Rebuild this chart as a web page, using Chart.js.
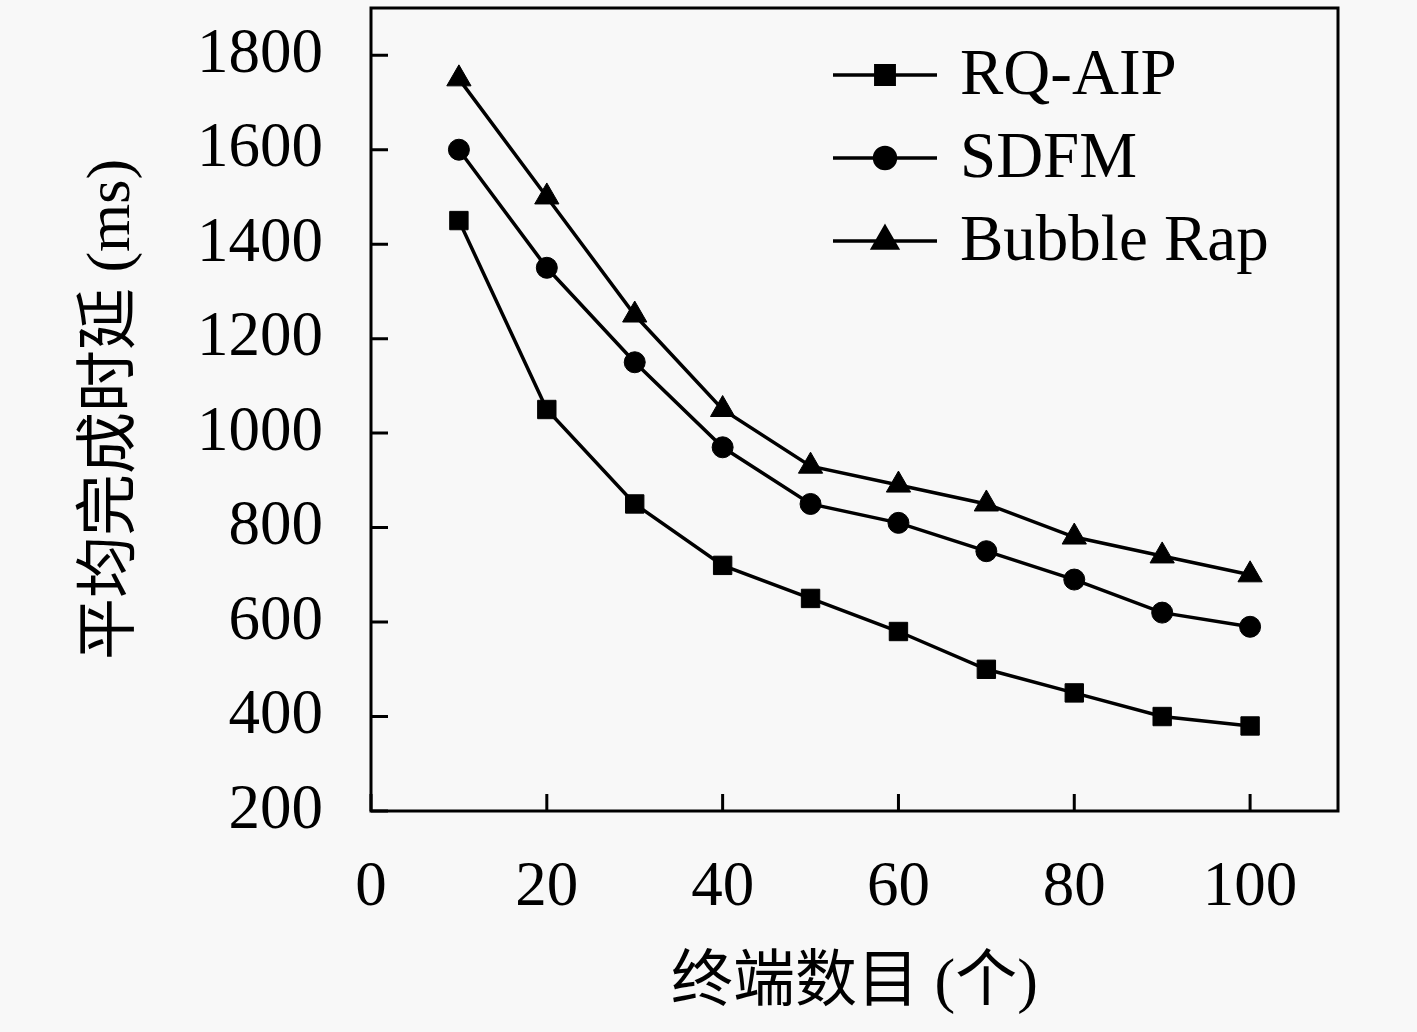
<!DOCTYPE html>
<html>
<head>
<meta charset="utf-8">
<script src="https://cdn.jsdelivr.net/npm/chart.js@4.4.0/dist/chart.umd.min.js"></script>
<style>
  html, body { margin: 0; padding: 0; background: #f8f8f8; }
  #wrap { width: 1417px; height: 1032px; }
</style>
</head>
<body>
<div id="wrap"><canvas id="chart"></canvas></div>
<script>
const terminals = [10, 20, 30, 40, 50, 60, 70, 80, 90, 100];
const rqAip = [1450, 1050, 850, 720, 650, 580, 500, 450, 400, 380];
const sdfm = [1600, 1350, 1150, 970, 850, 810, 750, 690, 620, 590];
const bubbleRap = [1750, 1500, 1250, 1050, 930, 890, 850, 780, 740, 700];
const xTicks = [0, 20, 40, 60, 80, 100];
const yTicks = [200, 400, 600, 800, 1000, 1200, 1400, 1600, 1800];

const serif = '"Liberation Serif", "DejaVu Serif", "Noto Sans CJK SC", serif';
const titleFont = '"Liberation Serif", "Noto Sans CJK SC", serif';

function pts(values) {
    return terminals.map((t, i) => ({ x: t, y: values[i] }));
}

// frame, inward ticks and legend
const frame = {
    id: 'frame',
    afterDatasetsDraw(chart) {
        const ctx = chart.ctx;
        const a = chart.chartArea;
        const xs = chart.scales.x, ys = chart.scales.y;
        ctx.save();
        ctx.strokeStyle = '#000';
        ctx.lineWidth = 3;
        ctx.strokeRect(a.left, a.top, a.right - a.left, a.bottom - a.top);
        ctx.beginPath();
        xTicks.forEach(v => {
            const px = xs.getPixelForValue(v);
            ctx.moveTo(px, a.bottom);
            ctx.lineTo(px, a.bottom - 17);
        });
        yTicks.forEach(v => {
            const py = ys.getPixelForValue(v);
            ctx.moveTo(a.left, py);
            ctx.lineTo(a.left + 17, py);
        });
        ctx.stroke();

        // legend
        const lx = a.right - 505;
        const ly = a.top + 67;
        chart.data.datasets.forEach((ds, i) => {
            const y = ly + i * 83;
            ctx.beginPath();
            ctx.lineWidth = 3.5;
            ctx.moveTo(lx, y);
            ctx.lineTo(lx + 104, y);
            ctx.stroke();
            Chart.helpers.drawPoint(ctx, {
                pointStyle: ds.pointStyle,
                radius: ds.pointRadius,
                borderWidth: 1
            }, lx + 52, y);
            ctx.fillStyle = '#000';
            ctx.fill();
            ctx.font = '65px ' + serif;
            ctx.textBaseline = 'middle';
            ctx.fillText(ds.label, lx + 127, y + 2);
        });
        ctx.restore();
    }
};

Chart.defaults.font.family = serif;
Chart.defaults.color = '#000';

const noPad = s => {
    s.paddingTop = 0;
    s.paddingBottom = 0;
};

new Chart(document.getElementById('chart'), {
    type: 'line',
    data: {
        datasets: [
            {
                label: 'RQ-AIP',
                data: pts(rqAip),
                pointStyle: 'rect',
                pointRadius: 13
            },
            {
                label: 'SDFM',
                data: pts(sdfm),
                pointStyle: 'circle',
                pointRadius: 10.5
            },
            {
                label: 'Bubble Rap',
                data: pts(bubbleRap),
                pointStyle: 'triangle',
                pointRadius: 14
            }
        ].map(d => Object.assign(d, {
            borderColor: '#000',
            backgroundColor: '#000',
            borderWidth: 3.5,
            pointBorderWidth: 1,
            tension: 0
        }))
    },
    options: {
        responsive: true,
        maintainAspectRatio: false,
        animation: false,
        layout: { autoPadding: false, padding: { top: 8, right: 79, left: 0, bottom: 0 } },
        plugins: { legend: { display: false }, tooltip: { enabled: false } },
        scales: {
            x: {
                type: 'linear',
                min: 0,
                max: 110,
                afterFit: s => { s.height = 221; noPad(s); },
                border: { display: false },
                grid: { display: false, drawTicks: true, tickLength: 40, tickColor: 'rgba(0,0,0,0)' },
                ticks: {
                    stepSize: 20,
                    includeBounds: false,
                    padding: 0,
                    font: { size: 63 },
                    maxRotation: 0
                },
                title: {
                    display: true,
                    text: '终端数目 (个)',
                    font: { size: 62, family: titleFont },
                    padding: { top: 0, bottom: 10 }
                }
            },
            y: {
                min: 200,
                max: 1900,
                afterFit: s => { s.width = 371; noPad(s); },
                border: { display: false },
                grid: { display: false, drawTicks: true, tickLength: 48, tickColor: 'rgba(0,0,0,0)' },
                ticks: {
                    stepSize: 200,
                    includeBounds: false,
                    padding: 0,
                    font: { size: 63 },
                    callback: v => String(v)
                },
                title: {
                    display: true,
                    text: '平均完成时延 (ms)',
                    font: { size: 62, family: titleFont },
                    padding: { top: 76, bottom: 0 }
                }
            }
        }
    },
    plugins: [frame]
});
</script>
</body>
</html>
